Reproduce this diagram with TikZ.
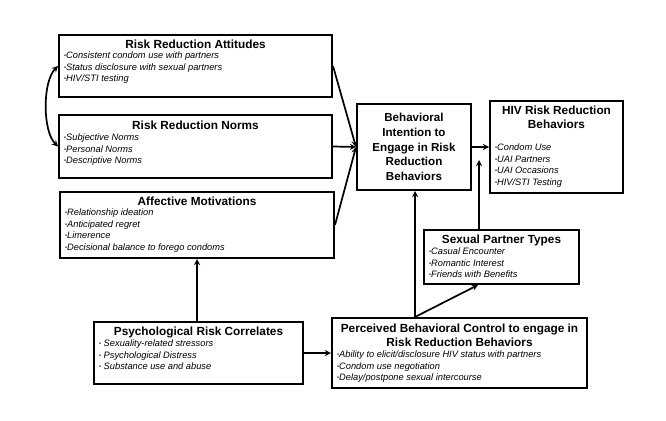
\documentclass[tikz,border=0pt]{standalone}
\usepackage{fontspec}
\setmainfont{Liberation Sans}
\usetikzlibrary{positioning}
\tikzset{>=stealth}
\newcommand{\bul}{\raisebox{.25ex}{\scalebox{.6}{\textbullet}}}

\begin{document}
\begin{tikzpicture}[x=1pt,y=1pt,
  box/.style={draw, line width=2pt, anchor=north west, inner sep=0pt},
  ttl/.style={font=\bfseries\fontsize{11.8}{14}\selectfont, align=center, inner sep=0pt},
  itm/.style={font=\itshape\fontsize{9.3}{11.6}\selectfont, align=left, inner sep=0pt},
  arr/.style={->, line width=1.7pt}]
\useasboundingbox (0,0) rectangle (666,-420);
\node[box, minimum width=273pt, minimum height=62pt] (att) at (58,-34) {};
\node[ttl, below=5.8pt of att.north] {Risk Reduction Attitudes};
\node[itm, below right=17.7pt and 6pt of att.north west] {\bul Consistent condom use with partners\\\bul Status disclosure with sexual partners\\\bul HIV/STI testing};
\node[box, minimum width=273pt, minimum height=63pt] (nor) at (58,-114) {};
\node[ttl, below=6.8pt of nor.north] {Risk Reduction Norms};
\node[itm, below right=19.7pt and 6pt of nor.north west] {\bul Subjective Norms\\\bul Personal Norms\\\bul Descriptive Norms};
\node[box, minimum width=274pt, minimum height=66pt] (aff) at (59,-191) {};
\node[ttl, below=5.8pt of aff.north] {Affective Motivations};
\node[itm, below right=17.7pt and 6pt of aff.north west] {\bul Relationship ideation\\\bul Anticipated regret\\\bul Limerence\\\bul Decisional balance to forego condoms};
\node[box, minimum width=209pt, minimum height=62pt] (psy) at (93,-321) {};
\node[ttl, below=5.8pt of psy.north] {Psychological Risk Correlates};
\node[itm, below right=18.7pt and 6pt of psy.north west] {\bul\ Sexuality-related stressors\\\bul\ Psychological Distress\\\bul\ Substance use and abuse};
\node[box, minimum width=255pt, minimum height=70pt] (per) at (331,-317) {};
\node[ttl, below=6.8pt of per.north] {Perceived Behavioral Control to engage in\\Risk Reduction Behaviors};
\node[itm, below right=33.7pt and 6pt of per.north west] {\bul Ability to elicit/disclosure HIV status with partners\\\bul Condom use negotiation\\\bul Delay/postpone sexual intercourse};
\node[box, minimum width=114pt, minimum height=86pt, font=\bfseries\fontsize{11.6}{14.6}\selectfont, align=center] (bi) at (356,-103) {Behavioral\\Intention to\\Engage in Risk\\Reduction\\Behaviors};
\node[box, minimum width=133pt, minimum height=92pt] (hiv) at (489,-100) {};
\node[ttl, below=5.8pt of hiv.north] {HIV Risk Reduction\\Behaviors};
\node[itm, below right=43.7pt and 6pt of hiv.north west] {\bul Condom Use\\\bul UAI Partners\\\bul UAI Occasions\\\bul HIV/STI Testing};
\node[box, minimum width=155pt, minimum height=54pt] (spt) at (423,-229) {};
\node[ttl, below=5.8pt of spt.north] {Sexual Partner Types};
\node[itm, below right=18.7pt and 6pt of spt.north west] {\bul Casual Encounter\\\bul Romantic Interest\\\bul Friends with Benefits};
\coordinate[right=104pt of psy.north west] (psyn);
\coordinate[right=84pt of per.north west] (pbc);
\coordinate[right=55pt of spt.south west] (spts);
\coordinate[right=56pt of spt.north west] (sptn);
\coordinate[above=69pt of sptn] (mod);
\draw[arr] (att.east) -- (bi.west);
\draw[arr] (nor.east) -- (bi.west);
\draw[arr] (aff.east) -- (bi.west);
\draw[arr] (bi.east) -- (hiv.west);
\draw[arr] (psyn) -- (psyn |- aff.south);
\draw[arr] (psy.east) -- (psy.east -| per.west);
\draw[arr] (pbc) -- (pbc |- bi.south);
\draw[arr] (pbc) -- (spts);
\draw[arr] (sptn) -- (mod);
\draw[arr, <->] (att.west) to[out=225, in=135, looseness=.7] (nor.west);
\end{tikzpicture}
\end{document}
